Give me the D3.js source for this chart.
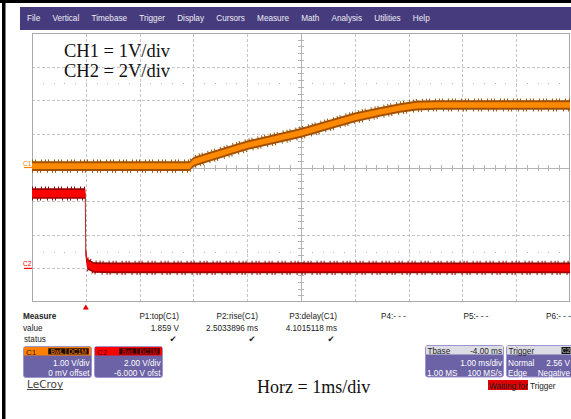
<!DOCTYPE html>
<html><head><meta charset="utf-8">
<script src="https://cdn.jsdelivr.net/npm/d3@7"></script>
<style>html,body{margin:0;padding:0;background:#fff;overflow:hidden}svg{display:block}</style>
</head><body>
<svg id="c" width="571" height="419"></svg>
<script>
// ---------------- data ----------------
const menuItems = ["File","Vertical","Timebase","Trigger","Display","Cursors","Measure","Math","Analysis","Utilities","Help"];
// time in ms relative to trigger, 1 ms/div
const timeDivs = [-1,0,1,2,3,4,5,6,7,8,9];
// C1 (1 V/div, 0 offset)
const c1Time  = [-1, 1.93, 2.0, 2.1, 3.0, 4.0, 5.0, 5.46, 5.84, 6.15, 6.5, 9];
const c1Volts = [0.04, 0.04, 0.16, 0.22, 0.66, 1.03, 1.49, 1.65, 1.77, 1.84, 1.86, 1.86];
// C2 (2 V/div, -6 V offset)
const c2Time  = [-1, -0.01, 0.0, 0.03, 0.15, 0.5, 9];
const c2Volts = [4.45, 4.45, 0.9, 0.25, 0.05, 0.03, 0.03];
const measureLabels = ["P1:top(C1)","P2:rise(C1)","P3:delay(C1)","P4:- - -","P5:- - -","P6:- - -"];
const measureValues = ["1.859 V","2.5033896 ms","4.1015118 ms","","",""];
const measureOk = [true,true,true,false,false,false];
const chanNames = ["C1","C2"];
const chanVdiv = ["1.00 V/div","2.00 V/div"];
const chanOffset = ["0 mV offset","-6.000 V ofst"];
const tbaseText = ["Tbase","-4.00 ms","1.00 ms/div","1.00 MS","100 MS/s"];
const trigText = ["Trigger","C2","Normal","2.56 V","Edge","Negative"];

// ---------------- drawing ----------------
const svg = d3.select("#c");
const SANS = "'Liberation Sans', Arial, sans-serif";
const SERIF = "'Liberation Serif', 'Times New Roman', serif";

// frame
svg.append("rect").attr("x",0).attr("y",0).attr("width",571).attr("height",3).attr("fill","#000");
svg.append("rect").attr("x",2).attr("y",0).attr("width",3.5).attr("height",419).attr("fill","#000");

// menu bar
svg.append("rect").attr("x",20).attr("y",7).attr("width",551).attr("height",23).attr("fill","#463b7c");
let mx = 27;
menuItems.forEach(m => {
  const t = svg.append("text").attr("x",mx).attr("y",20.5).attr("fill","#eeeef6")
    .attr("font-family",SANS).attr("font-size",8.2).text(m);
  mx += t.node().getComputedTextLength() + 12.2;
});

// scales
const x = d3.scaleLinear().domain([-1,9]).range([32,570]);
const y1 = d3.scaleLinear().domain([-4,4]).range([302,33]);
const y2 = d3.scaleLinear().domain([-2,14]).range([302,33]);
const xr = x.copy().interpolate(d3.interpolateRound);
const yr = y1.copy().interpolate(d3.interpolateRound);
const H = y1(-4) - y1(4), W = x(9) - x(-1);

// grid
const gx = svg.append("g").attr("transform",`translate(0,${yr(-4)})`)
  .call(d3.axisBottom(xr).tickValues(timeDivs.slice(1,-1)).tickSize(-H).tickFormat(""));
gx.select(".domain").remove();
gx.selectAll("line").attr("stroke","#c6c6c6").attr("stroke-dasharray","3,2");
const gy = svg.append("g").attr("transform",`translate(${xr(-1)},0)`)
  .call(d3.axisLeft(yr).tickValues(d3.range(-3,4)).tickSize(-W).tickFormat(""));
gy.select(".domain").remove();
gy.selectAll("line").attr("stroke","#c6c6c6").attr("stroke-dasharray","3,2");

// dotted rows at +/-2.5 div
[2.5,-2.5].forEach(v => {
  svg.append("g").selectAll("rect").data(d3.range(-0.8,9,0.2)).join("rect")
    .attr("x",d=>Math.round(x(d))).attr("y",Math.round(y1(v))).attr("width",1).attr("height",1)
    .attr("fill","#b8b8b8");
});

// center crosshair
svg.append("line").attr("x1",xr(-1)).attr("x2",xr(9)).attr("y1",yr(0)+0.5).attr("y2",yr(0)+0.5).attr("stroke","#b4b4b4");
svg.append("line").attr("x1",xr(4)+0.5).attr("x2",xr(4)+0.5).attr("y1",yr(4)).attr("y2",yr(-4)).attr("stroke","#b4b4b4");
const minorT = d3.range(-0.8,9,0.2);
[d3.axisTop, d3.axisBottom].forEach(a => {
  const g = svg.append("g").attr("transform",`translate(0,${yr(0)})`)
    .call(a(xr).tickValues(minorT).tickSize(3).tickFormat(""));
  g.select(".domain").remove(); g.selectAll("line").attr("stroke","#b4b4b4");
});
const minorV = d3.range(-3.8,4,0.2);
[d3.axisLeft, d3.axisRight].forEach(a => {
  const g = svg.append("g").attr("transform",`translate(${xr(4)},0)`)
    .call(a(yr).tickValues(minorV).tickSize(3).tickFormat(""));
  g.select(".domain").remove(); g.selectAll("line").attr("stroke","#b4b4b4");
});

// border
svg.append("rect").attr("x",xr(-1)+0.5).attr("y",yr(4)+0.5).attr("width",W-1).attr("height",H-1)
  .attr("fill","none").attr("stroke","#a9a9a9");

// traces
function drawTrace(times, volts, ys, dark, bright, halfOuter, halfInner) {
  const pts = times.map((t,i)=>[t, volts[i]]);
  // a point sitting on a steep edge (steep on both sides) gets no noise texture
  const slope = (a,b) => Math.abs((ys(b[1])-ys(a[1]))/((x(b[0])-x(a[0]))||1e-6));
  const flat = (d,i) => {
    const l = i>0 ? slope(pts[i-1],d) : 0;
    const r = i<pts.length-1 ? slope(d,pts[i+1]) : 0;
    return !(l > 5 && r > 5);
  };
  const g = svg.append("g");
  const area = h => d3.area().x(d=>x(d[0])).y0(d=>ys(d[1])-h).y1(d=>ys(d[1])+h);
  const line = off => d3.line().defined(off===0 ? (()=>true) : flat).x(d=>x(d[0])).y(d=>ys(d[1])+off);
  g.append("path").attr("d",line(-halfOuter-0.5)(pts)).attr("fill","none").attr("stroke",dark)
    .attr("stroke-width",2.5).attr("stroke-dasharray","1,2,1,5,1,3");
  g.append("path").attr("d",line(halfOuter+0.5)(pts)).attr("fill","none").attr("stroke",dark)
    .attr("stroke-width",2.5).attr("stroke-dasharray","1,4,1,2,1,6");
  g.append("path").attr("d",area(halfOuter)(pts)).attr("fill",dark);
  g.append("path").attr("d",line(0)(pts)).attr("fill","none").attr("stroke",dark).attr("stroke-width",0.8);
  g.append("path").attr("d",area(halfInner)(pts)).attr("fill",bright);
}
drawTrace(c1Time, c1Volts, y1, "#a05000", "#ff8a00", 4.8, 2.8);
drawTrace(c2Time, c2Volts, y2, "#9a0000", "#ff0000", 5.3, 3.6);

// channel ground markers
[[chanNames[0], y1, "#ff8000"], [chanNames[1], y2, "#ff0000"]].forEach(([n, s, col]) => {
  svg.append("text").attr("x",23).attr("y",s(0)-2).attr("fill",col).attr("font-family",SANS)
    .attr("font-size",6.5).text(n);
  svg.append("line").attr("x1",24).attr("x2",32).attr("y1",s(0)).attr("y2",s(0)).attr("stroke",col).attr("stroke-width",1.2);
});

// trigger marker
const tx = x(0);
svg.append("path").attr("d",`M${tx},304.5 L${tx+3},309.5 L${tx-3},309.5 Z`).attr("fill","#e00000");

// annotations
svg.append("text").attr("x",64).attr("y",57).attr("font-family",SERIF).attr("font-size",18.5).attr("fill","#111").text("CH1 = 1V/div");
svg.append("text").attr("x",64).attr("y",77).attr("font-family",SERIF).attr("font-size",18.5).attr("fill","#111").text("CH2 = 2V/div");
svg.append("text").attr("x",257).attr("y",393).attr("font-family",SERIF).attr("font-size",18).attr("fill","#111").text("Horz = 1ms/div");

// measure panel
const mp = svg.append("g").attr("font-family",SANS).attr("font-size",8.2).attr("fill","#222");
mp.append("text").attr("x",23).attr("y",319).attr("font-weight","bold").text("Measure");
mp.append("text").attr("x",23).attr("y",330.5).text("value");
mp.append("text").attr("x",24).attr("y",341.5).text("status");
measureLabels.forEach((lab,i) => {
  if (i < 3) {
    const rx = 179 + i*79;
    mp.append("text").attr("x",rx).attr("y",319).attr("text-anchor","end").text(lab);
    mp.append("text").attr("x",rx).attr("y",330.5).attr("text-anchor","end").text(measureValues[i]);
    if (measureOk[i]) mp.append("text").attr("x",rx-6).attr("y",342).attr("text-anchor","middle")
      .attr("font-family","'DejaVu Sans'").attr("font-size",8.5).text("\u2714");
  } else {
    mp.append("text").attr("x",381 + (i-3)*82.5).attr("y",319).text(lab);
  }
});

// channel descriptor boxes
const boxX = [23, 94];
const hdrCol = ["#ff8000", "#ff0000"];
const tagFill = ["#1a0d00", "#3a0000"];
chanNames.forEach((n,i) => {
  const bx = boxX[i], bw = 68;
  const g = svg.append("g").attr("font-family",SANS);
  g.append("rect").attr("x",bx+0.5).attr("y",346.5).attr("width",bw).attr("height",31).attr("rx",2.5)
    .attr("fill","#6c62a6").attr("stroke","#9d95cf");
  g.append("rect").attr("x",bx+1).attr("y",347).attr("width",bw-1).attr("height",8.5).attr("fill",hdrCol[i]);
  g.append("text").attr("x",bx+3).attr("y",354.5).attr("font-size",8).attr("fill", i===0?"#3a1a00":"#4a0000").text(n);
  g.append("rect").attr("x",bx+25).attr("y",348).attr("width",18).attr("height",6.8).attr("fill",tagFill[i]).attr("stroke",hdrCol[i]).attr("stroke-width",0.5);
  g.append("rect").attr("x",bx+43).attr("y",348).attr("width",23).attr("height",6.8).attr("fill",tagFill[i]).attr("stroke",hdrCol[i]).attr("stroke-width",0.5);
  g.append("text").attr("x",bx+34).attr("y",354).attr("text-anchor","middle").attr("font-size",6.5).attr("fill",hdrCol[i]).text("BwL");
  g.append("text").attr("x",bx+54.5).attr("y",354).attr("text-anchor","middle").attr("font-size",6.5).attr("fill",hdrCol[i]).text("DC1M");
  g.append("text").attr("x",bx+bw-1.5).attr("y",366).attr("text-anchor","end").attr("font-size",8.2).attr("fill","#fff").text(chanVdiv[i]);
  g.append("text").attr("x",bx+bw-1.5).attr("y",375.5).attr("text-anchor","end").attr("font-size",8.2).attr("fill","#fff").text(chanOffset[i]);
});

// Tbase box
(function(){
  const bx = 425, bw = 78;
  const g = svg.append("g").attr("font-family",SANS).attr("font-size",8.2);
  g.append("rect").attr("x",bx+0.5).attr("y",345.5).attr("width",bw).attr("height",31.5).attr("rx",2.5).attr("fill","#6c62a6").attr("stroke","#9d95cf");
  g.append("rect").attr("x",bx+1).attr("y",346).attr("width",bw-1).attr("height",8.5).attr("fill","#dcdce4");
  g.append("text").attr("x",bx+2.5).attr("y",353.5).attr("fill","#222").text(tbaseText[0]);
  g.append("text").attr("x",bx+bw-1).attr("y",353.5).attr("text-anchor","end").attr("fill","#222").text(tbaseText[1]);
  g.append("text").attr("x",bx+bw-1).attr("y",366).attr("text-anchor","end").attr("fill","#fff").text(tbaseText[2]);
  g.append("text").attr("x",bx+2).attr("y",375.5).attr("fill","#fff").text(tbaseText[3]);
  g.append("text").attr("x",bx+bw-1).attr("y",375.5).attr("text-anchor","end").attr("fill","#fff").text(tbaseText[4]);
})();

// Trigger box
(function(){
  const bx = 506, bw = 70;
  const g = svg.append("g").attr("font-family",SANS).attr("font-size",8.2);
  g.append("rect").attr("x",bx+0.5).attr("y",345.5).attr("width",bw).attr("height",31.5).attr("rx",2.5).attr("fill","#6c62a6").attr("stroke","#9d95cf");
  g.append("rect").attr("x",bx+1).attr("y",346).attr("width",bw-1).attr("height",8.5).attr("fill","#dcdce4");
  g.append("text").attr("x",bx+2.5).attr("y",353.5).attr("fill","#222").text(trigText[0]);
  g.append("rect").attr("x",561.5).attr("y",347).attr("width",9).attr("height",7).attr("fill","#111");
  g.append("text").attr("x",566).attr("y",353).attr("text-anchor","middle").attr("font-size",6.5).attr("font-weight","bold").attr("fill","#999").text(trigText[1]);
  g.append("text").attr("x",bx+2).attr("y",366).attr("fill","#fff").text(trigText[2]);
  g.append("text").attr("x",570).attr("y",366).attr("text-anchor","end").attr("fill","#fff").text(trigText[3]);
  g.append("text").attr("x",bx+2).attr("y",375.5).attr("fill","#fff").text(trigText[4]);
  g.append("text").attr("x",570).attr("y",375.5).attr("text-anchor","end").attr("fill","#fff").text(trigText[5]);
})();

// waiting for trigger
svg.append("rect").attr("x",488).attr("y",380).attr("width",40).attr("height",10).attr("fill","#e00000");
svg.append("text").attr("x",489).attr("y",388.5).attr("font-family",SANS).attr("font-size",8.2).attr("fill","#222").text("Waiting for Trigger");

// LeCroy logo
svg.append("text").attr("x",27).attr("y",387.5).attr("font-family","'DejaVu Sans', sans-serif").attr("font-size",10.5).attr("fill","#444").text("LeCroy");
svg.append("line").attr("x1",27).attr("x2",63).attr("y1",389.5).attr("y2",389.5).attr("stroke","#444").attr("stroke-width",1);
</script>
</body></html>
